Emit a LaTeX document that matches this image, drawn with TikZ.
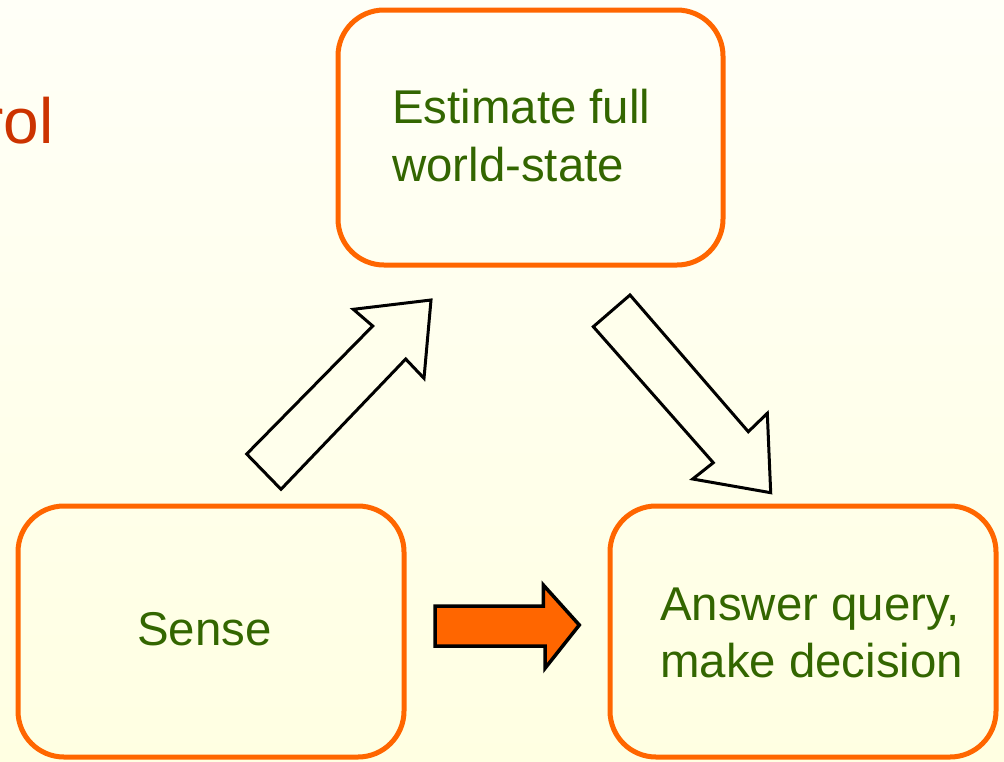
\documentclass[tikz,border=0pt]{standalone}
\usepackage{fontspec}
\setmainfont{Liberation Sans}
\definecolor{boxorange}{RGB}{255,102,0}
\definecolor{txtgreen}{RGB}{51,102,0}
\definecolor{titlered}{RGB}{204,51,0}
\definecolor{bgtop}{RGB}{255,255,247}
\definecolor{bgbot}{RGB}{255,255,226}
\definecolor{bgmid}{RGB}{255,255,236}
\begin{document}
\begin{tikzpicture}[x=1pt,y=-1pt,
  box/.style={draw=boxorange, line width=5pt, rounded corners=46pt},
  lbl/.style={text=txtgreen, font=\fontsize{47.4}{57}\selectfont, anchor=base west, inner sep=0pt},
  hollow/.style={draw=black, line width=3pt, fill=bgmid, line join=miter},
  solidarrow/.style={draw=black, line width=3.5pt, fill=boxorange, line join=miter}
]
\useasboundingbox (0,0) rectangle (1004,761);
\shade[top color=bgtop, bottom color=bgbot] (0,0) rectangle (1004,761);

% title fragment
\node[anchor=base east, inner sep=0pt, text=titlered, font=\fontsize{64}{70}\selectfont] (title) at (54,143) {rol};

% boxes
\draw[box] (338,10) rectangle (723,265);
\coordinate (estbox) at (530,137);
\draw[box] (18,506) rectangle (404,757);
\coordinate (sensebox) at (211,631);
\draw[box] (610,506) rectangle (996,757);
\coordinate (ansbox) at (803,631);

% texts
\node[lbl] (est1) at (392,123) {Estimate full};
\node[lbl] (est2) at (392,181) {world-state};
\node[lbl] (sense) at (137,645) {Sense};
\node[lbl] (ans1) at (660,620) {Answer query,};
\node[lbl] (ans2) at (660,677) {make decision};

% block arrows
\draw[hollow] (246.7,454) -- (372.7,326) -- (353.3,309.3) -- (431,300) -- (424,378.3) -- (405.7,359) -- (281,489.3) -- cycle;
\draw[hollow] (593.3,326.7) -- (630,295) -- (748.3,431.7) -- (767.3,413.3) -- (770.7,492.7) -- (692.7,479) -- (713.3,462.7) -- cycle;
\draw[solidarrow] (435,606) -- (543.3,606) -- (543.3,585) -- (579.3,625) -- (545,668.3) -- (545,646) -- (435,646) -- cycle;
\end{tikzpicture}
\end{document}
